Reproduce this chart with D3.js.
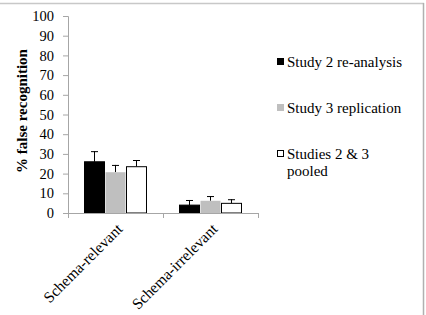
<!DOCTYPE html>
<html><head><meta charset="utf-8">
<script src="https://cdn.jsdelivr.net/npm/d3@7"></script>
<style>body{margin:0;background:#fff;}svg{display:block;font-family:"Liberation Serif","DejaVu Serif",serif;}</style>
</head><body><svg id="c" width="426" height="315"></svg>
<script>
const categories = ["Schema-relevant", "Schema-irrelevant"];
const seriesNames = ["Study 2 re-analysis", "Study 3 replication", "Studies 2 & 3 pooled"];
const seriesColors = ["#000000", "#bfbfbf", "#ffffff"];
const study2 = [26.0, 4.0];
const study3 = [20.7, 6.2];
const pooled = [23.5, 4.9];
const study2Err = [5.4, 2.6];
const study3Err = [3.7, 2.4];
const pooledErr = [3.4, 2.1];
const yTicks = [0,10,20,30,40,50,60,70,80,90,100];

const values = [study2, study3, pooled];
const errs = [study2Err, study3Err, pooledErr];

const svg = d3.select("#c");
const m = {l:68, r:258, t:16, b:213};
// frame
svg.append("line").attr("x1",0).attr("x2",424).attr("y1",3.5).attr("y2",3.5).attr("stroke","#c8c8c8").attr("stroke-width",1.5);
svg.append("line").attr("x1",423.5).attr("x2",423.5).attr("y1",3).attr("y2",315).attr("stroke","#b0b0b0").attr("stroke-width",1.5);

const y = d3.scaleLinear().domain([0,100]).range([m.b, m.t]);
const x0 = d3.scaleBand().domain(categories).range([m.l, m.r]).paddingInner(0.337).paddingOuter(0.1685);
const x1 = d3.scaleBand().domain(d3.range(3)).range([0, x0.bandwidth()]).padding(0);

const yAxis = svg.append("g").attr("transform",`translate(${m.l},0)`)
  .call(d3.axisLeft(y).tickValues(yTicks).tickSize(5).tickPadding(9));
yAxis.select(".domain").attr("stroke","#a6a6a6");
yAxis.selectAll(".tick line").attr("stroke","#a6a6a6");
yAxis.selectAll("text").attr("font-size",14.5).attr("fill","#000").attr("font-family","Liberation Serif");

// bars
const groups = svg.selectAll("g.grp").data(categories).enter().append("g")
  .attr("transform", d=>`translate(${x0(d)},0)`);
values.forEach((vals, si) => {
  const cx = x1(si)+x1.bandwidth()/2;
  groups.append("line")
    .attr("x1",cx).attr("x2",cx)
    .attr("y1",(d,i)=>y(vals[i])).attr("y2",(d,i)=>y(vals[i]+errs[si][i]))
    .attr("stroke","#000").attr("stroke-width",1);
  groups.append("line")
    .attr("x1",cx-3.5).attr("x2",cx+3.5)
    .attr("y1",(d,i)=>y(vals[i]+errs[si][i])+0.5).attr("y2",(d,i)=>y(vals[i]+errs[si][i])+0.5)
    .attr("stroke","#000").attr("stroke-width",1);
  groups.append("rect")
    .attr("x",x1(si)+0.5).attr("width",x1.bandwidth()-1)
    .attr("y",(d,i)=>y(vals[i])).attr("height",(d,i)=>m.b-y(vals[i]))
    .attr("fill",seriesColors[si]).attr("stroke", si===1 ? "none" : "#000").attr("stroke-width",1);
});

// x axis
const xg = svg.append("g");
xg.append("line").attr("x1",m.l).attr("x2",m.r).attr("y1",m.b+0.5).attr("y2",m.b+0.5).attr("stroke","#a6a6a6");
const bounds = [m.l, (x0(categories[0])+x0.bandwidth()+x0(categories[1]))/2, m.r];
bounds.forEach(b=>xg.append("line").attr("x1",b+0.5).attr("x2",b+0.5).attr("y1",m.b).attr("y2",m.b+5).attr("stroke","#a6a6a6"));
categories.forEach(c=>{
  const cx = x0(c)+x0.bandwidth()/2+8;
  xg.append("text").attr("transform",`translate(${cx},${m.b+17}) rotate(-45)`)
    .attr("text-anchor","end").attr("font-size",15.5).attr("fill","#000").text(c);
});

// y title
svg.append("text").attr("transform",`translate(27,${(52+170)/2}) rotate(-90)`)
  .attr("text-anchor","middle").attr("font-size",15).attr("font-weight","bold").text("% false recognition");

// legend
const legY = [62, 108, 154];
seriesNames.forEach((n,i)=>{
  svg.append("rect").attr("x",277.5).attr("y",legY[i]-3.5).attr("width",6).attr("height",6)
    .attr("fill",seriesColors[i]).attr("stroke", i===2?"#000":seriesColors[i]).attr("stroke-width",1);
  const t = svg.append("text").attr("x",287).attr("y",legY[i]+5).attr("font-size",15).attr("fill","#000");
  if (i===2) {
    t.text("Studies 2 & 3");
    svg.append("text").attr("x",287).attr("y",legY[i]+22).attr("font-size",15).text("pooled");
  } else t.text(n);
});
</script></body></html>
